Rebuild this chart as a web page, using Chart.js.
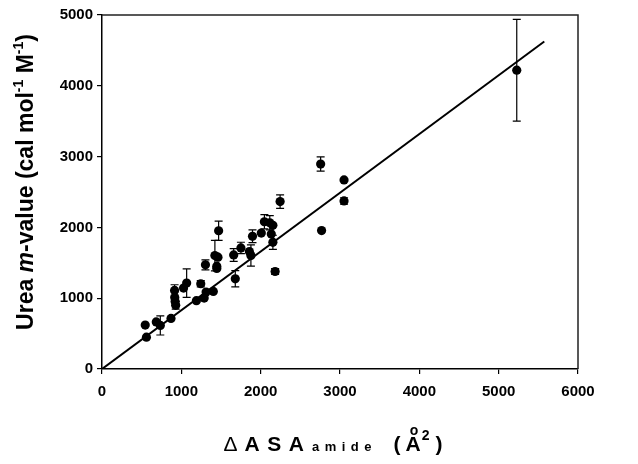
<!DOCTYPE html>
<html>
<head>
<meta charset="utf-8">
<script src="https://cdn.jsdelivr.net/npm/chart.js@4.4.1/dist/chart.umd.min.js"></script>
<style>
  html, body { margin: 0; padding: 0; background: #fff; }
  #wrap { width: 638px; height: 464px; position: relative; }
</style>
</head>
<body>
<div id="wrap"><canvas id="c" width="638" height="464"></canvas></div>
<script>
// ΔASA amide (Å^2)
const asaAmide = [545, 560, 684, 735, 870, 915, 917, 922, 929, 1028, 1067, 1190, 1245, 1288, 1312, 1403,
  1304, 1423, 1462, 1447, 1447, 1470, 1660, 1680, 1751, 1858, 1877, 1897, 2008, 2047, 2115, 2154,
  2134, 2154, 2182, 2245, 2756, 2768, 3051, 3051, 5228];
// Urea m-value (cal mol^-1 M^-1)
const mValue = [620, 450, 665, 615, 715, 1110, 1010, 955, 900, 1143, 1213, 965, 1204, 1002, 1087, 1096,
  1471, 1602, 1579, 1452, 1420, 1953, 1611, 1274, 1710, 1658, 1602, 1874, 1920, 2080, 2065, 2030,
  1906, 1789, 1377, 2365, 2895, 1955, 2670, 2374, 4220];
// symmetric error (same units as mValue), 0 = no bar
const mError = [0, 0, 0, 135, 0, 80, 0, 0, 55, 0, 200, 0, 45, 0, 0, 0,
  70, 215, 0, 0, 0, 135, 90, 115, 80, 0, 150, 90, 0, 100, 100, 0,
  0, 100, 40, 95, 100, 0, 0, 45, 718];
// linear fit
const fitX = [0, 5575];
const fitY = [0, 4625];
// axis ticks
const xTickValues = [0, 1000, 2000, 3000, 4000, 5000, 6000];
const yTickValues = [0, 1000, 2000, 3000, 4000, 5000];

const FONT = "'Liberation Sans', Arial, Helvetica, sans-serif";

const pointData = asaAmide.map((x, i) => ({ x: x, y: mValue[i] }));
const fitData = fitX.map((x, i) => ({ x: x, y: fitY[i] }));

const errorBars = {
  id: 'errorBars',
  beforeDatasetsDraw(chart) {
    const ctx = chart.ctx, xs = chart.scales.x, ys = chart.scales.y;
    ctx.save();
    ctx.strokeStyle = '#000';
    ctx.lineWidth = 1.2;
    for (let i = 0; i < asaAmide.length; i++) {
      const e = mError[i];
      if (!e) continue;
      const px = xs.getPixelForValue(asaAmide[i]);
      const pt = ys.getPixelForValue(mValue[i] + e);
      const pb = ys.getPixelForValue(mValue[i] - e);
      ctx.beginPath();
      ctx.moveTo(px, pt); ctx.lineTo(px, pb);
      ctx.moveTo(px - 4, pt); ctx.lineTo(px + 4, pt);
      ctx.moveTo(px - 4, pb); ctx.lineTo(px + 4, pb);
      ctx.stroke();
    }
    ctx.restore();
  }
};

function drawSeq(ctx, parts, startX, baseY) {
  let x = startX;
  for (const p of parts) {
    ctx.font = p.font;
    const chars = p.spacing ? Array.from(p.text) : [p.text];
    chars.forEach((ch, k) => {
      if (p.draw !== false) ctx.fillText(ch, x, baseY + (p.dy || 0));
      x += ctx.measureText(ch).width;
      if (p.spacing && k < chars.length - 1) x += p.spacing;
    });
    x += (p.after || 0);
  }
  return x - startX;
}

const frameAndTitles = {
  id: 'frameAndTitles',
  afterDraw(chart) {
    const ctx = chart.ctx, a = chart.chartArea;
    ctx.save();
    // top and right frame
    ctx.strokeStyle = '#222';
    ctx.lineWidth = 1.5;
    ctx.beginPath();
    ctx.moveTo(a.left, a.top); ctx.lineTo(a.right, a.top); ctx.lineTo(a.right, a.bottom);
    ctx.stroke();

    ctx.fillStyle = '#000';
    ctx.textAlign = 'left';
    ctx.textBaseline = 'alphabetic';

    // Y title (rotated)
    const big = 'bold 23px ' + FONT;
    const sup = 'bold 14px ' + FONT;
    const yParts = [
      { text: 'Urea ', font: big },
      { text: 'm', font: 'italic bold 23px ' + FONT },
      { text: '-value (cal mol', font: big },
      { text: '-1', font: sup, dy: -10 },
      { text: ' M', font: big },
      { text: '-1', font: sup, dy: -10 },
      { text: ')', font: big }
    ];
    const yw = drawSeq(ctx, yParts.map(p => Object.assign({}, p, { draw: false })), 0, 0);
    ctx.save();
    ctx.translate(33, 182);
    ctx.rotate(-Math.PI / 2);
    drawSeq(ctx, yParts, -yw / 2, 0);
    ctx.restore();

    // X title
    const xb = 'bold 21px ' + FONT;
    const xParts = [
      { text: '\u0394', font: '21px ' + FONT, after: 7 },
      { text: 'ASA', font: xb, spacing: 7.5, after: 8 },
      { text: 'amide', font: 'bold 13px ' + FONT, spacing: 5.5, after: 22 },
      { text: '(', font: xb, after: 5 },
      { text: 'A', font: xb, after: 1 },
      { text: '2', font: 'bold 14px ' + FONT, dy: -11, after: 6 },
      { text: ')', font: xb }
    ];
    const xw = drawSeq(ctx, xParts.map(p => Object.assign({}, p, { draw: false })), 0, 0);
    const x0 = 333 - xw / 2;
    const baseY = 451;
    drawSeq(ctx, xParts, x0, baseY);
    // ring of the Ångström sign drawn as a small "o" above the A
    let cx = x0;
    for (const p of xParts) {
      ctx.font = p.font;
      if (p.text === 'A' && !p.spacing) {
        const w = ctx.measureText('A').width;
        ctx.font = 'bold 14px ' + FONT;
        const ow = ctx.measureText('o').width;
        ctx.fillText('o', cx + w / 2 - ow / 2 + 1, baseY - 16);
        break;
      }
      const chars = p.spacing ? Array.from(p.text) : [p.text];
      chars.forEach((ch, k) => { cx += ctx.measureText(ch).width; if (p.spacing && k < chars.length - 1) cx += p.spacing; });
      cx += (p.after || 0);
    }
    ctx.restore();
  }
};

new Chart(document.getElementById('c'), {
  type: 'scatter',
  data: {
    datasets: [
      {
        label: 'fit',
        type: 'line',
        data: fitData,
        borderColor: '#000',
        borderWidth: 2,
        pointRadius: 0,
        fill: false,
        tension: 0,
        order: 1
      },
      {
        label: 'proteins',
        data: pointData,
        backgroundColor: '#000',
        borderColor: '#000',
        pointRadius: 4.6,
        pointBorderWidth: 0,
        clip: false,
        order: 2
      }
    ]
  },
  options: {
    responsive: false,
    animation: false,
    events: [],
    layout: { padding: { left: 0, right: 60, top: 15, bottom: 0 } },
    plugins: { legend: { display: false }, tooltip: { enabled: false }, title: { display: false } },
    scales: {
      x: {
        type: 'linear',
        min: 0, max: 6000,
        afterBuildTicks(scale) { scale.ticks = xTickValues.map(v => ({ value: v })); },
        afterFit(scale) { scale.height = 95; },
        ticks: { color: '#000', font: { family: FONT, size: 15, weight: 'bold' }, padding: 9, maxRotation: 0,
                 callback: v => String(v) },
        grid: { drawOnChartArea: false, drawTicks: true, tickLength: 5, color: '#000', lineWidth: 1.2 },
        border: { display: true, color: '#000', width: 1.5 }
      },
      y: {
        type: 'linear',
        min: 0, max: 5000,
        afterBuildTicks(scale) { scale.ticks = yTickValues.map(v => ({ value: v })); },
        afterFit(scale) { scale.width = 102; },
        ticks: { color: '#000', font: { family: FONT, size: 15, weight: 'bold' }, padding: 4,
                 callback: v => String(v) },
        grid: { drawOnChartArea: false, drawTicks: true, tickLength: 5, color: '#000', lineWidth: 1.2 },
        border: { display: true, color: '#000', width: 1.5 }
      }
    }
  },
  plugins: [errorBars, frameAndTitles]
});
</script>
</body>
</html>
